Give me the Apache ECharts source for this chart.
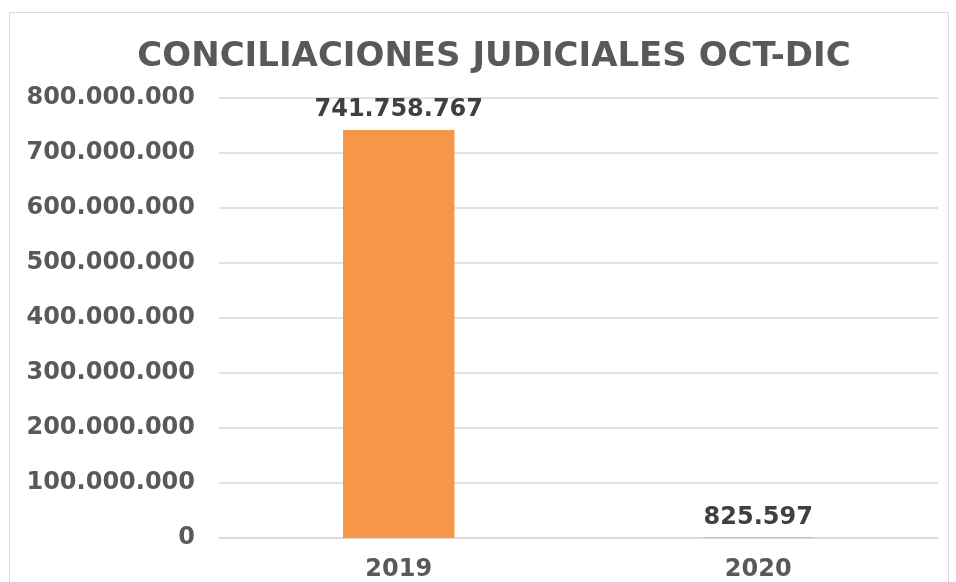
<!DOCTYPE html>
<html>
<head>
    <meta charset="UTF-8">
    <title>Conciliaciones judiciales</title>
    <script src="https://cdn.jsdelivr.net/npm/echarts@6/dist/echarts.min.js"></script>
    <style>
        html, body { margin: 0; padding: 0; background: #fff; }
        #main { width: 956px; height: 582px; }
    </style>
</head>
<body>
<div id="main"></div>
<script>
    var categories = ['2019', '2020'];
    var values = [741758767, 825597];
    var yTicks = [0, 100000000, 200000000, 300000000, 400000000, 500000000, 600000000, 700000000, 800000000];

    // separador de miles con punto
    function fmt(n) {
        return String(Math.round(n)).replace(/\B(?=(\d{3})+(?!\d))/g, '.');
    }

    var font = 'DejaVu Sans, Verdana, sans-serif';
    var chart = echarts.init(document.getElementById('main'));
    var option = {
        backgroundColor: '#fff',
        animation: false,
        title: {
            text: 'CONCILIACIONES JUDICIALES OCT-DIC',
            left: 489,
            textAlign: 'center',
            top: 35,
            textStyle: { fontFamily: font, fontSize: 34, fontWeight: 'bold', color: '#595959' }
        },
        graphic: [{
            type: 'rect',
            shape: { x: 9.5, y: 12.5, width: 939, height: 600 },
            style: { fill: 'none', stroke: '#d9d9d9', lineWidth: 1 },
            silent: true
        }],
        grid: { left: 219, right: 18, top: 98, bottom: 44 },
        xAxis: {
            type: 'category',
            data: categories,
            axisLine: { lineStyle: { color: '#d9d9d9', width: 1.5 } },
            axisTick: { show: false },
            axisLabel: { fontFamily: font, fontSize: 24, fontWeight: 'bold', color: '#595959', margin: 20 }
        },
        yAxis: {
            type: 'value',
            min: yTicks[0],
            max: yTicks[yTicks.length - 1],
            interval: 100000000,
            axisLine: { show: false },
            axisTick: { show: false },
            splitLine: { lineStyle: { color: '#d9d9d9', width: 1.5 } },
            axisLabel: {
                fontFamily: font, fontSize: 24, fontWeight: 'bold', color: '#595959', margin: 24,
                formatter: function (v) { return fmt(v); }
            }
        },
        series: [{
            type: 'bar',
            data: values,
            barWidth: '31%',
            itemStyle: { color: '#f79646' },
            label: {
                show: true,
                position: 'top',
                distance: 8,
                fontFamily: font, fontSize: 24, fontWeight: 'bold', color: '#404040',
                formatter: function (p) { return fmt(p.value); }
            }
        }]
    };
    chart.setOption(option);
</script>
</body>
</html>
